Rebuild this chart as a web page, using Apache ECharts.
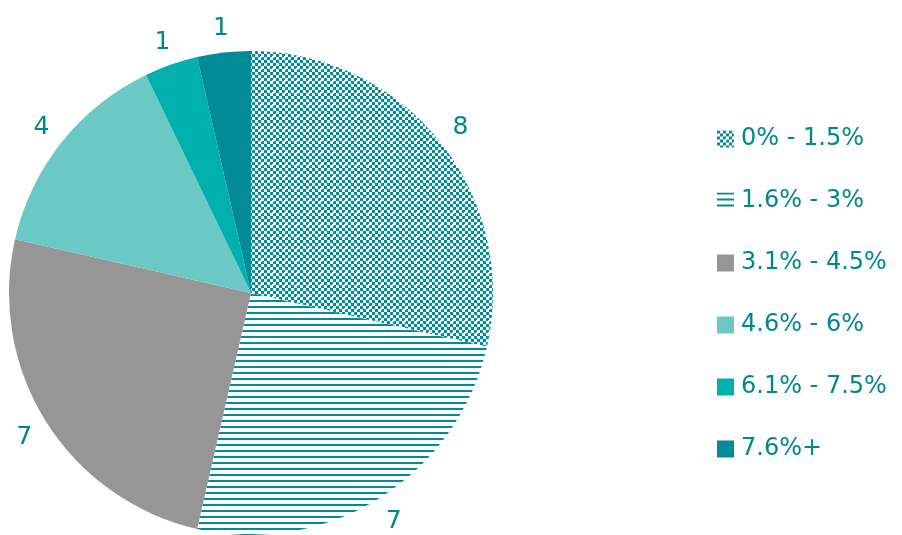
<!DOCTYPE html>
<html><head><meta charset="utf-8">
<script src="https://cdn.jsdelivr.net/npm/echarts@6/dist/echarts.min.js"></script>
<style>html,body{margin:0;padding:0;background:#fff}#c{width:902px;height:535px}</style>
</head><body><div id="c"></div>
<script>
const categories = ['0% - 1.5%', '1.6% - 3%', '3.1% - 4.5%', '4.6% - 6%', '6.1% - 7.5%', '7.6%+'];
const values = [8, 7, 7, 4, 1, 1];

const TEAL = '#008B96';
function checker() {
  const c = document.createElement('canvas'); c.width = 12; c.height = 12;
  const g = c.getContext('2d');
  g.fillStyle = '#fff'; g.fillRect(0,0,12,12);
  g.fillStyle = TEAL;
  for (let i=0;i<4;i++) for (let j=0;j<4;j++) if ((i+j)%2===0) g.fillRect(i*3,j*3,3,3);
  g.fillStyle = '#fff';
  g.fillRect(7,9,3,1); g.fillRect(8,8,1,3);
  return c;
}
function stripes() {
  const c = document.createElement('canvas'); c.width = 6; c.height = 6;
  const g = c.getContext('2d');
  g.fillStyle = '#fff'; g.fillRect(0,0,6,6);
  g.fillStyle = TEAL; g.fillRect(0,0,6,2);
  return c;
}
const fills = [
  {image: checker(), repeat: 'repeat'},
  {image: stripes(), repeat: 'repeat'},
  '#969696', '#6BC9C5', '#00B0AD', '#008B96'
];
const FONT = 'DejaVu Sans, Verdana, sans-serif';
const chart = echarts.init(document.getElementById('c'));
chart.setOption({
  animation: false,
  legend: {
    orient: 'vertical', left: 717, top: 127, itemGap: 38, padding: 0,
    itemWidth: 17, itemHeight: 17, icon: 'rect',
    textStyle: {color: '#00868F', fontSize: 24, fontFamily: FONT, padding: [0,0,0,2]},
    data: categories
  },
  series: [{
    type: 'pie', center: [251, 293], radius: 242, startAngle: 90, clockwise: true,
    label: {show: false}, labelLine: {show: false},
    itemStyle: {borderWidth: 0},
    emphasis: {disabled: true},
    data: categories.map((n,i)=>({name:n, value: values[i], itemStyle:{color: fills[i]}}))
  }, {
    type: 'pie', center: [251, 295], radius: [242, 288], startAngle: 90, clockwise: true,
    silent: true, legendHoverLink: false,
    label: {show: true, position: 'inside', formatter: '{c}', color: '#00868F', fontSize: 25, fontFamily: FONT},
    labelLine: {show: false},
    itemStyle: {color: 'rgba(0,0,0,0)'},
    data: categories.map((n,i)=>({name: 'lbl'+i, value: values[i]}))
  }]
});
</script></body></html>
